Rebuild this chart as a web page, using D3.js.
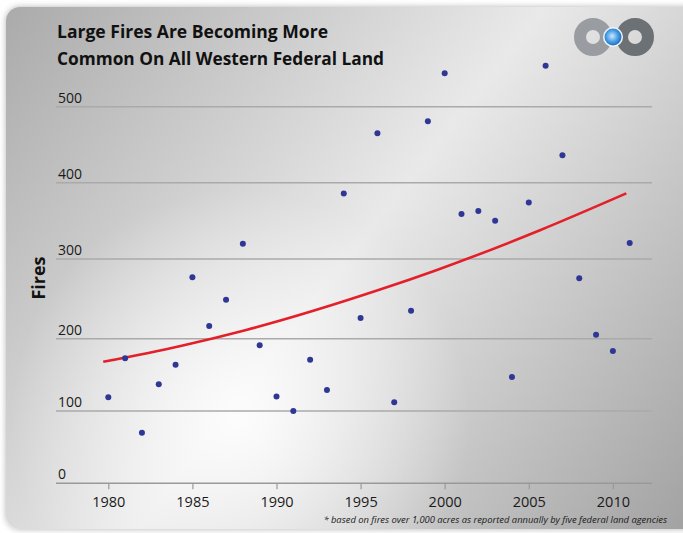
<!DOCTYPE html>
<html>
<head>
<meta charset="utf-8">
<script src="https://cdn.jsdelivr.net/npm/d3@7"></script>
<style>
  body { margin: 0; background: #fff; }
  svg { display: block; }
</style>
</head>
<body>
<div id="chart"></div>
<script>

// values
const years = [1980, 1981, 1982, 1983, 1984, 1985, 1986, 1987, 1988, 1989,
               1990, 1991, 1992, 1993, 1994, 1995, 1996, 1997, 1998, 1999,
               2000, 2001, 2002, 2003, 2004, 2005, 2006, 2007, 2008, 2009,
               2010, 2011];
const fires = [119, 173, 70, 137, 164, 277, 216, 249, 320, 191,
               120, 100, 171, 129, 386, 226, 465, 112, 235, 481,
               544, 359, 363, 350, 147, 374, 554, 436, 276, 205,
               183, 321];

// red trend curve
const trendYears = [1979.7, 1984.3, 1988.2, 1996.2, 1999.5, 2005.7, 2010.8];
const trendFires = [168, 190, 211, 262, 286, 338, 386];

const yTicks = [0, 100, 200, 300, 400, 500];
const xTicks = [1980, 1985, 1990, 1995, 2000, 2005, 2010];

const titleLines = ["Large Fires Are Becoming More", "Common On All Western Federal Land"];
const yLabel = "Fires";
const footnote = "* based on fires over 1,000 acres as reported annually by five federal land agencies";

const width = 683, height = 533;
const font = "'Open Sans', 'DejaVu Sans', sans-serif";

let svg = d3.select("#chart").append("svg")
            .attr("width", width)
            .attr("height", height);

let defs = svg.append("defs");

let bg = defs.append("linearGradient")
             .attr("id", "bgGrad")
             .attr("gradientUnits", "userSpaceOnUse")
             .attr("x1", 0).attr("y1", 0)
             .attr("x2", width).attr("y2", height);
bg.append("stop").attr("offset", 0).attr("stop-color", "#a9a9a9");
bg.append("stop").attr("offset", 0.5).attr("stop-color", "#e9e9e9");
bg.append("stop").attr("offset", 1).attr("stop-color", "#a2a2a2");

let glow = defs.append("radialGradient")
               .attr("id", "glow")
               .attr("gradientUnits", "userSpaceOnUse")
               .attr("cx", 240).attr("cy", 420).attr("r", 230);
glow.append("stop").attr("offset", 0).attr("stop-color", "#fff").attr("stop-opacity", 0.9);
glow.append("stop").attr("offset", 1).attr("stop-color", "#fff").attr("stop-opacity", 0);

let ball = defs.append("radialGradient")
               .attr("id", "ball")
               .attr("cx", 0.45).attr("cy", 0.45).attr("r", 0.6);
ball.append("stop").attr("offset", 0).attr("stop-color", "#cfe8fb");
ball.append("stop").attr("offset", 0.55).attr("stop-color", "#4aa0e6");
ball.append("stop").attr("offset", 1).attr("stop-color", "#1665b8");

let shadow = defs.append("filter")
                 .attr("id", "shadow")
                 .attr("x", -0.05).attr("y", -0.05)
                 .attr("width", 1.1).attr("height", 1.1);
shadow.append("feDropShadow")
      .attr("dx", 0).attr("dy", 0)
      .attr("stdDeviation", 3)
      .attr("flood-color", "#000")
      .attr("flood-opacity", 0.3);

// panel
svg.append("rect")
   .attr("x", 6).attr("y", 7)
   .attr("width", 700).attr("height", 522)
   .attr("rx", 14).attr("ry", 14)
   .attr("fill", "url(#bgGrad)")
   .attr("filter", "url(#shadow)");
svg.append("rect")
   .attr("x", 6).attr("y", 7)
   .attr("width", 700).attr("height", 522)
   .attr("rx", 14).attr("ry", 14)
   .attr("fill", "url(#glow)");

// scales (the picture's gridlines are not quite evenly spaced)
let x = d3.scaleLinear()
          .domain([1980, 2011])
          .range([108.3, 629.7]);
let y = d3.scaleLinear()
          .domain(yTicks)
          .range([483.3, 411, 338.7, 259, 182.7, 106.7]);

const plotLeft = 56, plotRight = 652;

// gridlines + y labels
let grid = svg.append("g");
grid.selectAll("line")
    .data(yTicks.filter(d => d > 0))
    .join("line")
    .attr("x1", plotLeft).attr("x2", plotRight)
    .attr("y1", d => y(d)).attr("y2", d => y(d))
    .attr("stroke", "#aaaaaa")
    .attr("stroke-width", 1.5);

grid.selectAll("text")
    .data(yTicks)
    .join("text")
    .attr("x", 58)
    .attr("y", d => y(d) - 4)
    .text(d => d)
    .style("font", "14px " + font)
    .attr("fill", "#1a1a1a");

// x axis
let xAxis = svg.append("g")
               .attr("transform", `translate(0,${y(0)})`)
               .call(d3.axisBottom(x).tickValues(xTicks).tickFormat(d3.format("d"))
                       .tickSize(6).tickSizeOuter(0).tickPadding(7));
xAxis.select(".domain")
     .attr("d", `M${plotLeft},0H${plotRight}`)
     .attr("stroke", "#999")
     .attr("stroke-width", 1.5);
xAxis.selectAll(".tick line").attr("stroke", "#999").attr("stroke-width", 1.2);
xAxis.selectAll(".tick text")
     .style("font", "14.5px " + font)
     .attr("fill", "#1a1a1a");

// trend curve
let line = d3.line()
             .x((d, i) => x(trendYears[i]))
             .y(d => y(d))
             .curve(d3.curveMonotoneX);
svg.append("path")
   .attr("d", line(trendFires))
   .attr("fill", "none")
   .attr("stroke", "#e3202a")
   .attr("stroke-width", 2.6);

// points
svg.append("g")
   .selectAll("circle")
   .data(fires)
   .join("circle")
   .attr("cx", (d, i) => x(years[i]))
   .attr("cy", d => y(d))
   .attr("r", 3)
   .attr("fill", "#2f3795");

// title
let title = svg.append("text")
               .attr("fill", "#111")
               .style("font", "bold 18px " + font);
title.append("tspan").text(titleLines[0])
     .attr("x", 57).attr("y", 38).attr("textLength", 271).attr("lengthAdjust", "spacingAndGlyphs");
title.append("tspan").text(titleLines[1])
     .attr("x", 57).attr("y", 65).attr("textLength", 327).attr("lengthAdjust", "spacingAndGlyphs");

svg.append("text")
   .attr("transform", "translate(45,278) rotate(-90)")
   .attr("text-anchor", "middle")
   .style("font", "bold 18px " + font)
   .attr("fill", "#111")
   .text(yLabel);

svg.append("text")
   .attr("x", 667).attr("y", 523)
   .attr("text-anchor", "end")
   .style("font", "italic 9.4px " + font)
   .attr("fill", "#1a1a1a")
   .text(footnote);

// logo
let logo = svg.append("g");
logo.append("circle")
    .attr("cx", 593).attr("cy", 37).attr("r", 13)
    .attr("fill", "none").attr("stroke", "#999ca0").attr("stroke-width", 12);
logo.append("circle")
    .attr("cx", 635).attr("cy", 37).attr("r", 13)
    .attr("fill", "none").attr("stroke", "#6c7176").attr("stroke-width", 12);
logo.append("circle")
    .attr("cx", 613).attr("cy", 37).attr("r", 10)
    .attr("fill", "#f2f6fa");
logo.append("circle")
    .attr("cx", 613).attr("cy", 37).attr("r", 8.5)
    .attr("fill", "url(#ball)");

</script>
</body>
</html>
